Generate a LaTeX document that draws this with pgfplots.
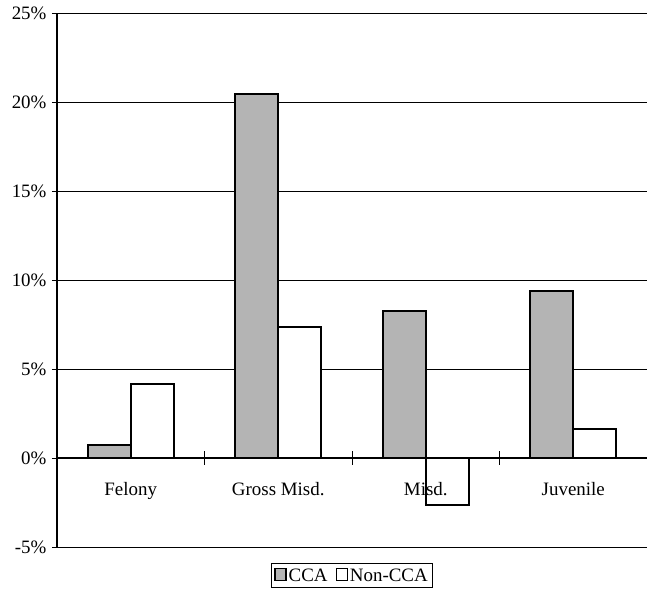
\documentclass[border=0pt]{standalone}
\usepackage{fontspec}
\setmainfont{Liberation Serif}
\usepackage{pgfplots}
\pgfplotsset{compat=1.18}
\usetikzlibrary{calc}
\definecolor{ccagray}{RGB}{180,180,180}

\begin{document}
\begin{tikzpicture}
  \begin{axis}[
    scale only axis,
    width=590bp, height=534bp,
    font=\fontsize{19}{22}\selectfont,
    /pgf/number format/assume math mode=true,
    xmin=-0.5, xmax=3.5,
    ymin=-5, ymax=25,
    ytick={-5,0,5,10,15,20,25},
    yticklabel={\pgfmathprintnumber{\tick}\%},
    yticklabel style={xshift=-2bp},
    axis y line*=left,
    axis x line*=middle,
    axis line style={-, line width=1.2bp},
    ymajorgrids,
    grid style={black, line width=0.9bp},
    y tick style={black, line width=0.9bp},
    tick align=outside,
    major tick length=5bp,
    xtick={0,1,2,3},
    xticklabels={Felony, Gross Misd., Misd., Juvenile},
    x tick style={draw=none},
    xticklabel style={yshift=-16bp},
    extra x ticks={0.5,1.5,2.5},
    extra x tick labels={},
    extra x tick style={x tick style={draw=black, line width=0.9bp}, major tick length=13bp, tick align=center},
    ybar,
    bar width=43bp,
    legend style={
      at={(0.5,0)}, anchor=north, yshift=-16bp,
      draw=black, line width=1bp,
      legend columns=2,
      font=\fontsize{19}{22}\selectfont,
      inner xsep=3bp, inner ysep=3bp,
      /tikz/every even column/.append style={column sep=6bp},
    },
    legend image code/.code={
      \draw[#1, line width=1.4bp] (0bp,-5bp) rectangle (11bp,7bp);
    },
  ]
    \addplot[bar shift=-21.5bp, fill=ccagray, draw=black, line width=2bp]
      coordinates {(0,0.75) (1,20.45) (2,8.28) (3,9.38)};
    \addplot[bar shift=21.5bp, fill=white, draw=black, line width=2bp]
      coordinates {(0,4.17) (1,7.38) (3,1.63)};
    \addplot[bar shift=21.5bp, fill=none, draw=black, line width=2bp, forget plot]
      coordinates {(2,-2.65)};
    \legend{CCA, Non-CCA}
    \coordinate (sw) at (rel axis cs:0,0);
    \coordinate (ne) at (rel axis cs:1,1);
  \end{axis}
  \pgfresetboundingbox
  \path[use as bounding box] ($(sw)+(-57bp,-49bp)$) rectangle ($(ne)+(0bp,13bp)$);
\end{tikzpicture}
\end{document}
